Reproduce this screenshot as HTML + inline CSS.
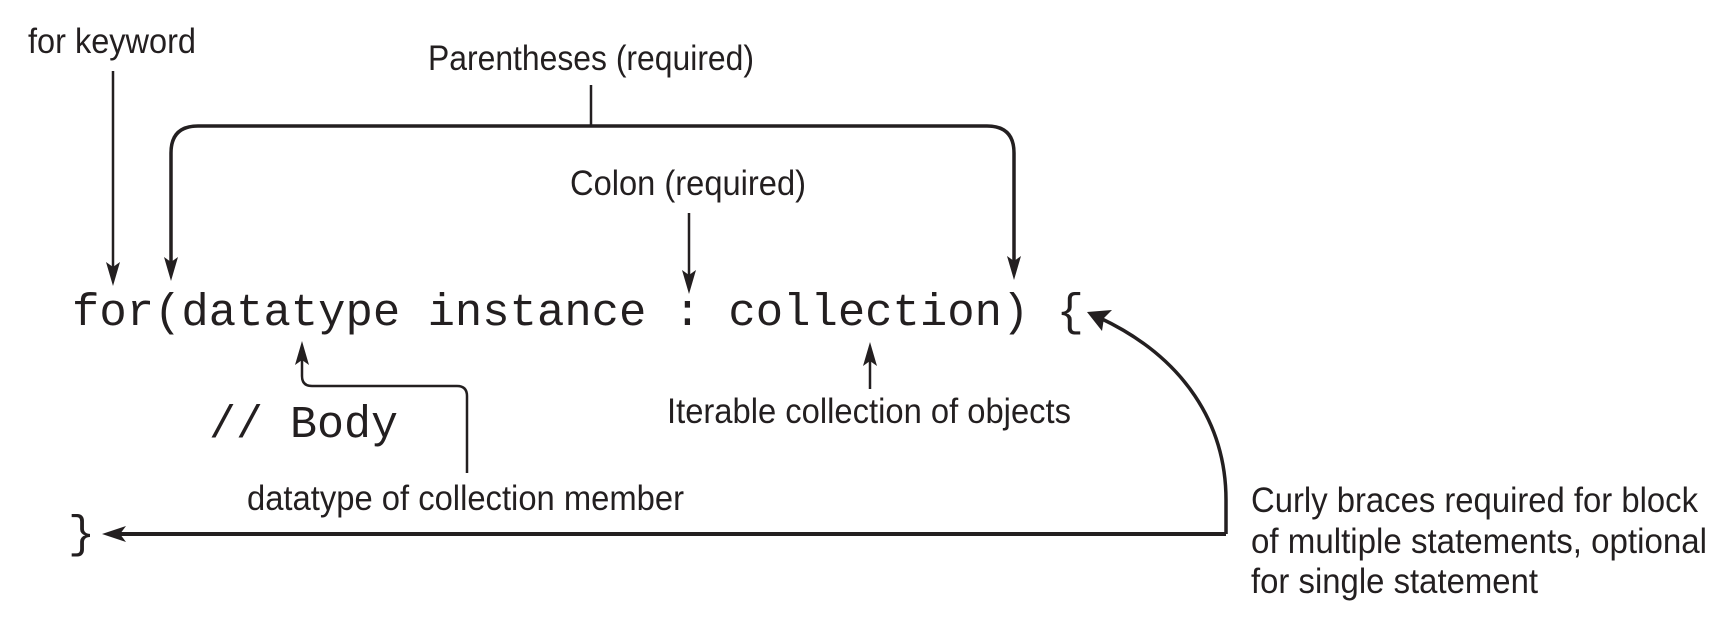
<!DOCTYPE html>
<html><head><meta charset="utf-8"><style>
html,body{margin:0;padding:0;background:#fff;}
svg{display:block;}
.t{font-family:"Liberation Sans",sans-serif;font-size:35px;fill:#231f20;}
.c{font-family:"Liberation Mono","DejaVu Sans Mono",monospace;font-size:45px;fill:#231f20;}
</style></head><body>
<svg width="1735" height="632" viewBox="0 0 1735 632" xmlns="http://www.w3.org/2000/svg">
<g stroke="#231f20" fill="none" stroke-width="2.5">
<line x1="113" y1="71" x2="113" y2="272"/>
<line x1="591" y1="85" x2="591" y2="126"/>
<path d="M171,268 V153 Q171,126 198,126 H987 Q1014,126 1014,153 V266" stroke-width="3.5"/>
<line x1="689" y1="213" x2="689" y2="280"/>
<path d="M467,473 V396 Q467,386 457,386 H312 Q302,386 302,376 V353"/>
<line x1="870" y1="389" x2="870" y2="354"/>
<path d="M1226,534 H116" stroke-width="4"/>
<path d="M1226,534 V500 C1226,425 1185,358 1100,318" stroke-width="3.5"/>
</g>
<g fill="#231f20">
<polygon points="113,286 106,262 113,267 120,262"/>
<polygon points="171,281 164,257 171,262 178,257"/>
<polygon points="1014,280 1007,256 1014,261 1021,256"/>
<polygon points="689,294 682,270 689,275 696,270"/>
<polygon points="302,341 295,365 302,360 309,365"/>
<polygon points="870,342 863,366 870,361 877,366"/>
<polygon points="102,534 126,526 120,534 126,542"/>
<polygon points="1087,312 1112,310 1104,318 1102,331"/>
</g>
<text class="t" x="28" y="53" textLength="168" lengthAdjust="spacingAndGlyphs">for keyword</text>
<text class="t" x="428" y="70" textLength="326" lengthAdjust="spacingAndGlyphs">Parentheses (required)</text>
<text class="t" x="570" y="195" textLength="236" lengthAdjust="spacingAndGlyphs">Colon (required)</text>
<text class="t" x="667" y="423" textLength="404" lengthAdjust="spacingAndGlyphs">Iterable collection of objects</text>
<text class="t" x="247" y="510" textLength="437" lengthAdjust="spacingAndGlyphs">datatype of collection member</text>
<text class="t" x="1251" y="512" textLength="447" lengthAdjust="spacingAndGlyphs">Curly braces required for block</text>
<text class="t" x="1251" y="553" textLength="456" lengthAdjust="spacingAndGlyphs">of multiple statements, optional</text>
<text class="t" x="1251" y="593" textLength="287" lengthAdjust="spacingAndGlyphs">for single statement</text>
<text class="c" x="72" y="325" textLength="1012" lengthAdjust="spacingAndGlyphs">for(datatype instance : collection) {</text>
<text class="c" x="209" y="437" textLength="189" lengthAdjust="spacingAndGlyphs">// Body</text>
<text class="c" x="68" y="547">}</text>
</svg>
</body></html>
